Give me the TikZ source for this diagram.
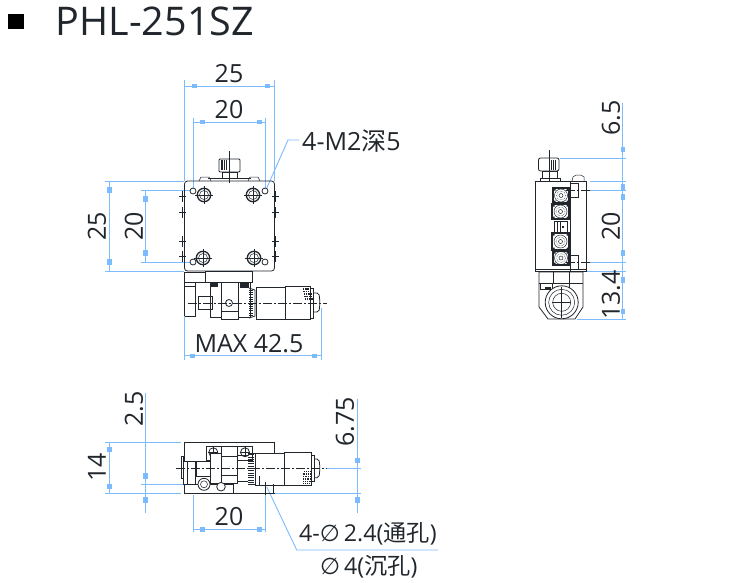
\documentclass[tikz,border=0pt]{standalone}
\usepackage{fontspec}
\setmainfont{Open Sans}
\newfontfamily\cjk{Noto Sans CJK SC}
\newfontfamily\symb{DejaVu Sans}
\definecolor{dimblue}{HTML}{7DBBFF}
\definecolor{inkdark}{HTML}{20262C}
\tikzset{
	dimline/.style={draw=dimblue, line width=0.9pt},
	part/.style={draw=inkdark, line width=0.8pt},
	thin part/.style={draw=inkdark, line width=0.5pt},
	axis/.style={draw=inkdark, line width=0.6pt, dash pattern=on 9pt off 2pt on 2pt off 2pt},
	dimtext/.style={text=inkdark, font=\fontsize{25}{25}\selectfont, inner sep=0pt},
	labeltext/.style={text=inkdark, font=\fontsize{25}{25}\selectfont, inner sep=0pt, anchor=west},
}
\def\hmark(#1,#2){\fill[dimblue] (#1-2.5,#2-2.2) rectangle (#1+2.5,#2+2.2);}
\def\vmark(#1,#2){\fill[dimblue] (#1-2.2,#2-2.7) rectangle (#1+2.2,#2+2.7);}
\begin{document}
\begin{tikzpicture}[x=1pt,y=-1pt]
		\useasboundingbox (0,0) rectangle (750,582);
		
		%%%%% TITLE %%%%%
		\fill[black] (8,14) rectangle (24,29);
		\node[text=inkdark, font=\fontsize{39.5}{39.5}\selectfont, inner sep=0pt, anchor=west] (title) at (55.5,21) {PHL-251SZ};
		
		%%%%% TOP VIEW %%%%%
		\draw[dimline] (184.3,80) -- (184.3,181);
		\draw[dimline] (274.3,80) -- (274.3,181);
		\draw[dimline] (184.3,86) -- (274.3,86);
		\hmark(194,86) \hmark(267.7,86)
		\node[dimtext] (topw) at (229,74) {25};
		\draw[dimline] (193.3,118) -- (193.3,190);
		\draw[dimline] (265.3,118) -- (265.3,190);
		\draw[dimline] (193.3,122) -- (265.3,122);
		\hmark(202.7,122) \hmark(259,122)
		\node[dimtext] (tophole) at (229,110) {20};
		
		\draw[dimline] (105,181) -- (184,181);
		\draw[dimline] (105,271) -- (184,271);
		\draw[dimline] (109.3,181) -- (109.3,271);
		\vmark(109.3,190) \vmark(109.3,262)
		\node[dimtext, rotate=90] (toph) at (97,226) {25};
		\draw[dimline] (141,190.3) -- (190,190.3);
		\draw[dimline] (141,262) -- (190,262);
		\draw[dimline] (145.3,190.3) -- (145.3,262);
		\vmark(145.3,199) \vmark(145.3,253)
		\node[dimtext, rotate=90] (topv) at (134,226) {20};
		
		\draw[dimline] (299,140) -- (288,140) -- (265,192);
		\node[labeltext] (tapped) at (302,141) {4-M2{\cjk 深}5};
		
		\draw[part, rounded corners=3pt] (184.5,271) -- (184.5,181) -- (274.5,181) -- (274.5,271) -- cycle;
		% knob
		\draw[part, rounded corners=1pt] (219,159) rectangle (240,172);
		\draw[thin part] (222,172) rectangle (237,178);
		\draw[thin part] (208,178) -- (251,178);
		\foreach \i in {0,1,2,3} \draw[thin part] (221+\i*1.7,160) -- (221+\i*1.7,170);
		\draw[thin part] (229.5,151) -- (229.5,183);
		\draw[thin part] (199,181) -- (201,177) -- (209,177) -- (211,181);
		\draw[thin part] (248,181) -- (250,177) -- (258,177) -- (260,181);
		% holes
		\foreach \x/\y in {204/195,253/195,203/258,254/258} {
			\draw[part, line width=1.3pt] (\x,\y) circle (6.7);
			\draw[thin part] (\x,\y) circle (4.5);
			\draw[thin part] (\x-9,\y) -- (\x+9,\y) (\x,\y-9) -- (\x,\y+9);
		}
		\foreach \x/\y in {193/191,265/191,193/262,265/262} {
			\draw[part, fill=white] (\x,\y) circle (3);
		}
		% side rods
		\foreach \x in {182.5,275.5} \foreach \y in {196,212,241,256} {
			\draw[part, line width=1.3pt] (\x,\y-5.5) -- (\x,\y+5.5);
			\draw[thin part] (\x-3.5,\y) -- (\x+3.5,\y);
		}
		% stage below body
		\draw[part] (184.7,272) rectangle (205.3,282);
		\draw[part] (205.3,271) rectangle (252.7,282);
		\draw[part] (184.7,282) rectangle (195.7,316.7);
		\draw[part] (184.7,286) -- (195.7,286);
		\draw[part] (198,296.7) rectangle (212,309);
		\draw[part] (210,282) rectangle (221.7,317);
		\draw[part] (221.7,282) rectangle (238,319);
		\draw[part] (221.7,311) -- (238,311);
		\draw[part] (229,303) circle (3.5);
		\draw[part] (238,282) rectangle (250,317);
		\fill[inkdark] (210,282) rectangle (218,287);
		\fill[inkdark] (240,282) rectangle (249,288);
		\draw[part] (249,288) -- (255,290) -- (255,316) -- (249,318);
		\foreach \i in {0,...,11} \draw[thin part] (249,290+\i*2.3) -- (253,290+\i*2.3);
		\draw[part] (256,287) rectangle (285,319);
		\draw[part] (285,286) rectangle (310,319);
		\draw[part] (310,288) rectangle (313.3,318);
		\draw[part, rounded corners=2pt] (313.3,293) -- (319,293) -- (320,303) -- (319,312) -- (313.3,312);
		\foreach \i in {0,...,3} \foreach \j in {0,...,4} \fill[inkdark] (303+2.2*\i+\j*0.4,288+2.6*\j) rectangle ++(1.3,1.5);
		\draw[axis] (188,303.3) -- (326.7,303.3);
		
		\draw[dimline] (184.5,316) -- (184.5,360);
		\draw[dimline] (321,308) -- (321,360);
		\draw[dimline] (184.5,355.7) -- (321,355.7);
		\hmark(192,355.7) \hmark(314,355.7)
		\node[dimtext] (maxlen) at (249,344) {MAX 42.5};
		
		%%%%% SIDE VIEW %%%%%
		\draw[dimline] (622.7,103) -- (622.7,319);
		\draw[dimline] (560,158) -- (626,158);
		\draw[dimline] (590,181) -- (626,181);
		\draw[dimline] (590,190) -- (626,190);
		\draw[dimline] (590,262.3) -- (626,262.3);
		\draw[dimline] (586,271.7) -- (626,271.7);
		\draw[dimline] (577,319) -- (626,319);
		\vmark(622.7,149.5) \vmark(622.7,187) \vmark(622.7,197) \vmark(622.7,253) \vmark(622.7,280) \vmark(622.7,311.7)
		\node[dimtext, rotate=90] (sideknob) at (611,118) {6.5};
		\node[dimtext, rotate=90] (sidehole) at (611,226.5) {20};
		\node[dimtext, rotate=90] (sidelow) at (611,295) {13.4};
		
		\draw[part] (535.7,181) rectangle (586,271);
		\draw[part] (535.7,269) -- (586,269);
		\draw[part, rounded corners=2pt] (538.5,171) -- (538.5,158) -- (559,158) -- (559,171) -- cycle;
		\draw[thin part] (542,171) rectangle (557,178);
		\draw[thin part] (540,178) rectangle (560,181);
		\draw[thin part] (549.3,150) -- (549.3,181);
		\foreach \i in {0,1,2} \draw[thin part] (551+\i*2,160) -- (551+\i*2,170);
		\draw[thin part] (572,181) -- (573,177) -- (576,175) -- (581,175) -- (584,177) -- (584,181);
		\draw[part] (570,181) -- (570,271);
		\foreach \y in {183,255} {
			\draw[part] (570,\y) rectangle (578,\y+14);
			\draw[axis] (566,\y+7) -- (590,\y+7);
		}
		\foreach \xa/\ya/\xb/\yb in {553/188/569/203,552/204/569/219,552/233/569/250,553/251/569/265} {
			\draw[part, line width=1.2pt] (\xa,\ya) rectangle (\xb,\yb);
			\draw[thin part] ({(\xa+\xb)/2},{(\ya+\yb)/2}) circle (6.5);
			\draw[thin part, densely dotted] ({(\xa+\xb)/2},{(\ya+\yb)/2}) circle (4.5);
			\draw[thin part] ({(\xa+\xb)/2},{(\ya+\yb)/2}) circle (2);
			\fill[inkdark] (\xa,\ya) rectangle (\xa+2.5,\ya+2.5) (\xb,\ya) rectangle (\xb-2.5,\ya+2.5) (\xa,\yb) rectangle (\xa+2.5,\yb-2.5) (\xb,\yb) rectangle (\xb-2.5,\yb-2.5);
		}
		\draw[part] (554,221) rectangle (567,233);
		\draw[part] (557,221) -- (557,233);
		\draw[part] (560,221) -- (560,233);
		\fill[inkdark] (562,226) rectangle (563.5,228);
		
		\draw[part] (539,272) -- (539,307) -- (548,319) -- (575,319) -- (583,307) -- (583,272) -- cycle;
		\draw[part] (539,283) -- (583,283);
		\draw[part] (553,272) -- (553,283) (569,272) -- (569,296);
		\draw[part] (540,283) rectangle (552,289);
		\fill[inkdark] (545,287) rectangle (551,290);
		\draw[part, fill=white] (561.7,302.3) circle (16.5);
		\draw[thin part] (561.7,302.3) circle (13);
		\draw[thin part] (561.7,302.3) circle (9);
		\draw[thin part] (552,302.3) -- (571,302.3);
		\draw[thin part] (561.7,287) -- (561.7,318);
		
		%%%%% BOTTOM VIEW %%%%%
		\draw[dimline] (105,442.3) -- (181,442.3);
		\draw[dimline] (105,493.3) -- (181,493.3);
		\draw[dimline] (141,484.3) -- (184,484.3);
		\draw[dimline] (109.3,442.3) -- (109.3,493.3);
		\vmark(109.3,449.3) \vmark(109.3,486.7)
		\node[dimtext, rotate=90] (lowh) at (97,467) {14};
		\draw[dimline] (145.3,393) -- (145.3,513);
		\vmark(145.3,476) \vmark(145.3,500)
		\node[dimtext, rotate=90] (lowoff) at (134,409) {2.5};
		
		\draw[dimline] (357.3,399) -- (357.3,513);
		\draw[dimline] (327,468.3) -- (361,468.3);
		\draw[dimline] (274,493.3) -- (361,493.3);
		\vmark(357.3,460.7) \vmark(357.3,500)
		\node[dimtext, rotate=90] (lowaxis) at (345,422) {6.75};
		
		\draw[dimline] (193.3,495) -- (193.3,532);
		\draw[dimline] (265.3,495) -- (265.3,532);
		\draw[dimline] (193.3,529.3) -- (265.3,529.3);
		\hmark(202.7,529.3) \hmark(259,529.3)
		\node[dimtext] (lowhole) at (229,517) {20};
		
		\draw[dimline] (266.7,486.7) -- (296.7,550) -- (438,550);
		\node[labeltext, font=\fontsize{23.2}{23}\selectfont] (through) at (299,534) {4-{\symb\fontsize{23}{23}\selectfont ∅}\,2.4({\cjk 通孔})};
		\node[labeltext, font=\fontsize{23.2}{23}\selectfont] (counter) at (320,567) {{\symb\fontsize{23}{23}\selectfont ∅}\,4({\cjk 沉孔})};
		
		\draw[part] (184.3,461) -- (184.3,442.3) -- (274.3,442.3) -- (274.3,453);
		\draw[part, line width=1.6pt] (184,493.3) -- (274.5,493.3);
		\draw[part] (273.3,484) -- (273.3,493.3);
		\draw[part] (206,446.7) rectangle (252.7,460);
		\foreach \x in {213.3,245} {
			\draw[part, fill=white] (\x,452.3) circle (4.5);
			\draw[thin part] (\x-5,452.3) -- (\x+5,452.3) (\x,447) -- (\x,457);
		}
		\draw[part, fill=white] (221.7,446.7) rectangle (237.3,483.3);
		\draw[thin part] (221.7,456) -- (237.3,456) (221.7,475) -- (237.3,475);
		\draw[part, fill=white] (210,453) rectangle (221.7,483);
		\draw[part, fill=white] (183.3,461) rectangle (195.7,484.3);
		\draw[part] (187,461) -- (187,484.3);
		\draw[part] (181,456) rectangle (183.3,478);
		\draw[part, fill=white] (196.7,461.7) rectangle (210,476);
		\draw[part] (184.3,484.3) -- (184.3,493.3) (196,484.3) -- (233,484.3) (233,484.3) -- (233,493.3);
		\draw[part, fill=white] (204,484.3) circle (6);
		\draw[thin part] (204,484.3) circle (3.5);
		\draw[part, fill=white] (221,486.7) circle (4.3);
		\draw[part] (237,455) -- (248.3,455) (237,481.7) -- (248.3,481.7);
		\draw[part] (248.3,453) -- (255.7,453) (248.3,484) -- (255.7,484);
		\foreach \i in {0,...,12} \draw[thin part] (248.3,454.5+\i*2.3) -- (254,454.5+\i*2.3);
		\draw[part] (255.7,453) rectangle (284,485);
		\draw[part] (284,452.3) rectangle (311.7,485.7);
		\draw[part] (311.7,455) rectangle (314.3,481.7);
		\draw[part, rounded corners=2pt] (314.3,459) -- (319,459) -- (320,468) -- (319,477.7) -- (314.3,477.7);
		\foreach \i in {0,...,3} \foreach \j in {0,...,5} \fill[inkdark] (303.5+2.2*\i-\j*0.2,471+2.4*\j) rectangle ++(1.3,1.4);
		\draw[axis] (176,468.3) -- (327,468.3);
		\draw[part] (259,476) -- (259,484.5) (265,482) -- (265,495);
		
		%%%%% END %%%%%
	\end{tikzpicture}
\end{document}
